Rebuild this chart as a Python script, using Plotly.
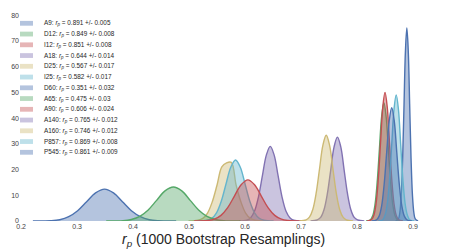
import plotly.graph_objects as go

# ---- data ----
names = ["A9", "D12", "I12", "A18", "D25", "I25", "D60", "A65", "A90", "A140", "A160", "P857", "P545"]
means = ["0.891", "0.849", "0.851", "0.644", "0.567", "0.582", "0.351", "0.475", "0.606", "0.765", "0.746", "0.869", "0.861"]
stds = ["0.005", "0.008", "0.008", "0.014", "0.017", "0.017", "0.032", "0.03", "0.024", "0.012", "0.012", "0.008", "0.009"]

x_A9 = [0.869, 0.874, 0.8765, 0.879, 0.8815, 0.884, 0.8865, 0.889, 0.8915, 0.894, 0.8965, 0.899, 0.9015, 0.904, 0.909]
y_A9 = [0, 0.8, 3.3, 10.1, 24.4, 45.5, 66.2, 75, 66.2, 45.5, 24.4, 10.1, 3.3, 0.8, 0]
x_D12 = [0.816, 0.824, 0.828, 0.832, 0.836, 0.840, 0.844, 0.848, 0.852, 0.856, 0.860, 0.864, 0.868, 0.872, 0.880]
y_D12 = [0, 0.5, 2.0, 6.2, 15.0, 27.9, 40.6, 46, 40.6, 27.9, 15.0, 6.2, 2.0, 0.5, 0]
x_I12 = [0.818, 0.826, 0.830, 0.834, 0.838, 0.842, 0.846, 0.850, 0.854, 0.858, 0.862, 0.866, 0.870, 0.874, 0.882]
y_I12 = [0, 0.6, 2.2, 6.8, 16.3, 30.4, 44.2, 50, 44.2, 30.4, 16.3, 6.8, 2.2, 0.6, 0]
x_A18 = [0.589, 0.603, 0.610, 0.617, 0.624, 0.631, 0.638, 0.645, 0.652, 0.659, 0.666, 0.673, 0.680, 0.687, 0.701]
y_A18 = [0, 0.3, 1.3, 3.9, 9.4, 17.6, 25.6, 29, 25.6, 17.6, 9.4, 3.9, 1.3, 0.3, 0]
x_D25 = [0.499, 0.516, 0.5245, 0.533, 0.5415, 0.550, 0.5585, 0.567, 0.5755, 0.584, 0.5925, 0.601, 0.6095, 0.618, 0.635]
y_D25 = [0, 0.3, 1.0, 3.1, 7.5, 14.0, 21.0, 22.6, 22.8, 14.0, 7.5, 3.1, 1.0, 0.3, 0]
x_I25 = [0.515, 0.532, 0.5405, 0.549, 0.5575, 0.566, 0.5745, 0.583, 0.5915, 0.600, 0.6085, 0.617, 0.6255, 0.634, 0.651]
y_I25 = [0, 0.3, 1.0, 3.2, 7.7, 14.4, 20.9, 23.7, 20.9, 14.4, 7.7, 3.2, 1.0, 0.3, 0]
x_D60 = [0.221, 0.253, 0.269, 0.285, 0.301, 0.317, 0.333, 0.349, 0.365, 0.381, 0.397, 0.413, 0.429, 0.445, 0.477]
y_D60 = [0, 0.1, 0.5, 1.7, 4.0, 7.5, 10.9, 12.4, 10.9, 7.5, 4.0, 1.7, 0.5, 0.1, 0]
x_A65 = [0.352, 0.382, 0.397, 0.412, 0.427, 0.442, 0.457, 0.472, 0.487, 0.502, 0.517, 0.532, 0.547, 0.562, 0.592]
y_A65 = [0, 0.1, 0.6, 1.8, 4.3, 8.0, 11.7, 13.2, 11.7, 8.0, 4.3, 1.8, 0.6, 0.1, 0]
x_A90 = [0.509, 0.533, 0.545, 0.557, 0.569, 0.581, 0.593, 0.605, 0.617, 0.629, 0.641, 0.653, 0.665, 0.677, 0.701]
y_A90 = [0, 0.2, 0.7, 2.2, 5.2, 9.7, 14.1, 16, 14.1, 9.7, 5.2, 2.2, 0.7, 0.2, 0]
x_A140 = [0.717, 0.729, 0.735, 0.741, 0.747, 0.753, 0.759, 0.765, 0.771, 0.777, 0.783, 0.789, 0.795, 0.801, 0.813]
y_A140 = [0, 0.4, 1.4, 4.4, 10.6, 19.8, 28.8, 32.6, 28.8, 19.8, 10.6, 4.4, 1.4, 0.4, 0]
x_A160 = [0.697, 0.709, 0.715, 0.721, 0.727, 0.733, 0.739, 0.745, 0.751, 0.757, 0.763, 0.769, 0.775, 0.781, 0.793]
y_A160 = [0, 0.4, 1.5, 4.5, 10.8, 20.2, 29.4, 33.3, 29.4, 20.2, 10.8, 4.5, 1.5, 0.4, 0]
x_P857 = [0.838, 0.846, 0.850, 0.854, 0.858, 0.862, 0.866, 0.870, 0.874, 0.878, 0.882, 0.886, 0.890, 0.894, 0.902]
y_P857 = [0, 0.5, 2.2, 6.6, 15.9, 29.7, 43.3, 49, 43.3, 29.7, 15.9, 6.6, 2.2, 0.5, 0]
x_P545 = [0.826, 0.835, 0.8395, 0.844, 0.8485, 0.853, 0.8575, 0.862, 0.8665, 0.871, 0.8755, 0.880, 0.8845, 0.889, 0.898]
y_P545 = [0, 0.5, 1.9, 5.9, 14.3, 26.7, 38.9, 44, 38.9, 26.7, 14.3, 5.9, 1.9, 0.5, 0]

xs = [x_A9, x_D12, x_I12, x_A18, x_D25, x_I25, x_D60, x_A65, x_A90, x_A140, x_A160, x_P857, x_P545]
ys = [y_A9, y_D12, y_I12, y_A18, y_D25, y_I25, y_D60, y_A65, y_A90, y_A140, y_A160, y_P857, y_P545]

x_ticks = [0.2, 0.3, 0.4, 0.5, 0.6, 0.7, 0.8, 0.9]
y_ticks = [0, 10, 20, 30, 40, 50, 60, 70, 80]

# ---- styling ----
palette = ["#4C72B0", "#55A868", "#C44E52", "#8172B2", "#CCB974", "#64B5CD"]


def rgba(h, a):
    h = h.lstrip("#")
    return "rgba(%d,%d,%d,%.2f)" % (int(h[0:2], 16), int(h[2:4], 16), int(h[4:6], 16), a)


FONT = "Liberation Sans, Arial, sans-serif"
W, H = 449, 251
ML, MR, MT, MB = 20, 22, 10, 30
PW, PH = W - ML - MR, H - MT - MB

fig = go.Figure()
shapes = []
annotations = []
for i, (nm, mu, sd, x, y) in enumerate(zip(names, means, stds, xs, ys)):
    c = palette[i % len(palette)]
    fig.add_trace(go.Scatter(
        x=x, y=y, mode="lines", name=nm,
        line=dict(color=c, width=1.4, shape="spline", smoothing=1.0),
        fill="tozeroy", fillcolor=rgba(c, 0.42), showlegend=False,
        hoverinfo="x+y+name",
    ))
    # manual legend entry
    yc = 23.3 + i * 10.75
    yp = (H - MB - yc) / PH
    shapes.append(dict(type="rect", xref="paper", yref="paper",
                       x0=0, x1=13 / PW, y0=yp - 2.4 / PH, y1=yp + 2.4 / PH,
                       fillcolor=rgba(c, 0.42), line=dict(width=0)))
    annotations.append(dict(xref="paper", yref="paper", x=22 / PW, y=yp,
                            xanchor="left", yanchor="middle", showarrow=False,
                            text="%s: <i>r</i><sub><i>p</i></sub> = %s +/- %s" % (nm, mu, sd),
                            font=dict(family=FONT, size=6.4, color="#262626")))

# x-axis title
annotations.append(dict(xref="paper", yref="paper", x=0.5, y=(H - MB - 240) / PH,
                        xanchor="center", yanchor="middle", showarrow=False,
                        text="<i>r</i><sub><i>p</i></sub> (1000 Bootstrap Resamplings)",
                        font=dict(family=FONT, size=14, color="#262626")))

fig.update_layout(
    width=W, height=H,
    margin=dict(l=ML, r=MR, t=MT, b=MB, pad=0),
    paper_bgcolor="white", plot_bgcolor="white",
    font=dict(family=FONT, color="#262626"),
    shapes=shapes, annotations=annotations,
    xaxis=dict(range=[0.198, 0.925], tickvals=x_ticks, ticktext=[str(v) for v in x_ticks],
               showgrid=False, zeroline=False, showline=False, ticks="", automargin=False,
               tickfont=dict(family=FONT, size=7, color="#444444")),
    yaxis=dict(range=[0, 82], tickvals=y_ticks, showgrid=False, zeroline=False,
               showline=False, ticks="", automargin=False,
               tickfont=dict(family=FONT, size=7, color="#444444")),
    showlegend=False,
)

fig.write_html("out.html", config={"displayModeBar": False},
               post_script="document.body.style.margin='0';document.body.style.overflow='hidden';")
